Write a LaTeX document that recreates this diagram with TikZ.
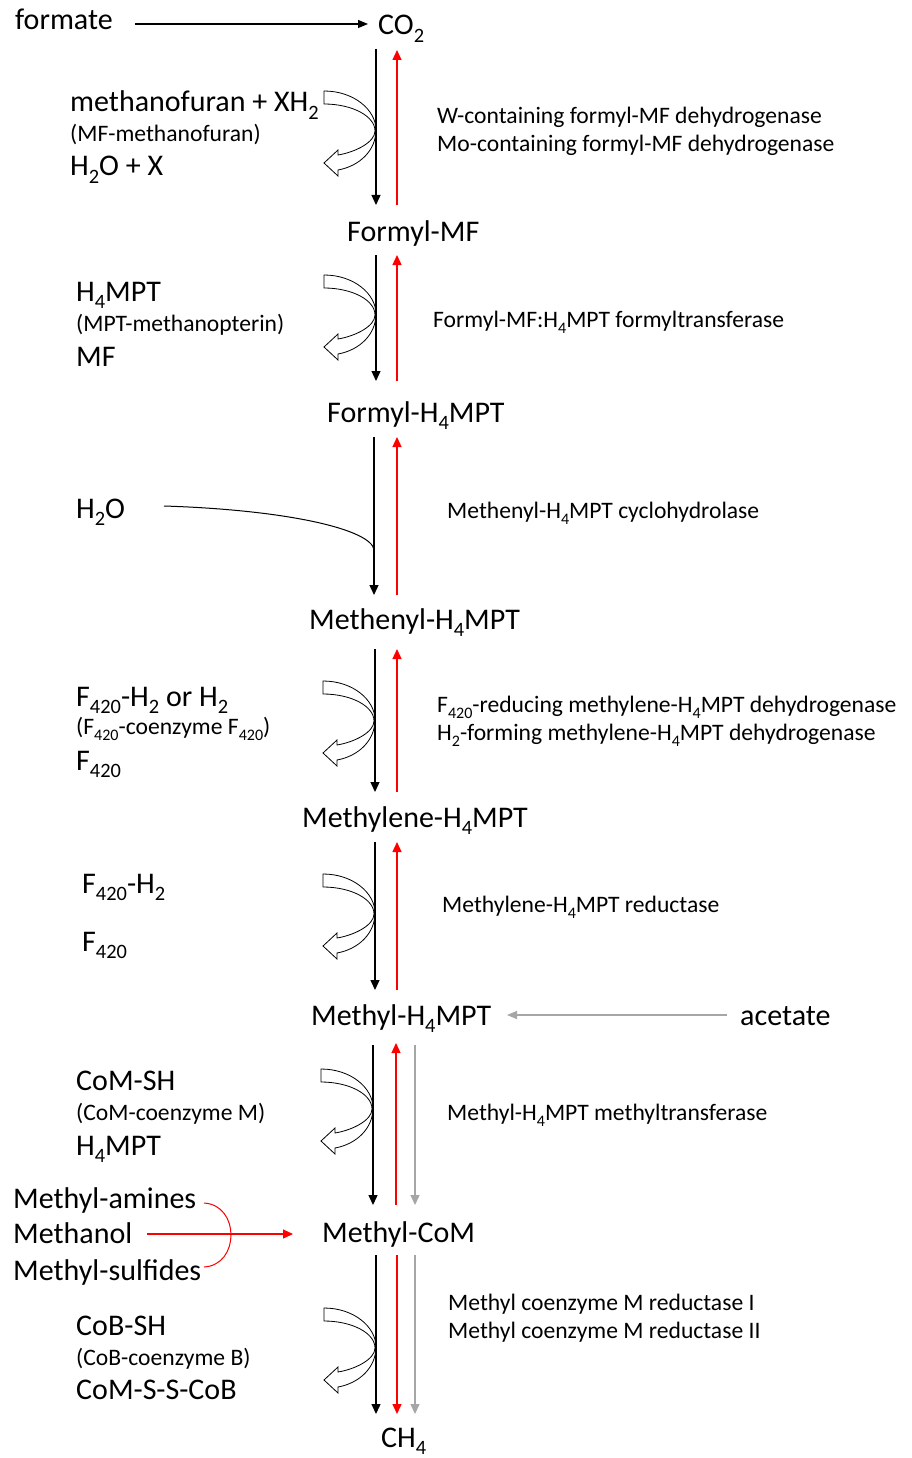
\documentclass[tikz,border=0pt]{standalone}
\usepackage{fontspec}
\setmainfont{Carlito}
\usetikzlibrary{arrows.meta}
\definecolor{lgray}{RGB}{166,166,166}
\newcommand{\sbs}[1]{\raisebox{-0.26em}{\scalebox{0.68}{#1}}}
\tikzset{
  big/.style={font=\fontsize{30}{36}\selectfont, inner sep=0pt, anchor=base west},
  sml/.style={font=\fontsize{23.6}{28}\selectfont, inner sep=0pt, anchor=base west},
  blk/.style={line width=1.3pt, -{Triangle[length=10pt,width=9pt]}},
  rdar/.style={line width=1.3pt, red, -{Triangle[length=10pt,width=9pt]}},
  gyar/.style={line width=1.3pt, lgray, -{Triangle[length=10pt,width=9pt]}},
  cofac/.pic={
    \draw[line width=0.8pt, fill=white]
      (-52,-39) .. controls (-22,-39) and (0,-20) .. (0,0)
      .. controls (0,20) and (-16,36) .. (-38,40)
      -- (-38,46) -- (-52,33) -- (-38,20) -- (-38,25)
      .. controls (-20,22) and (-1,12) .. (-1,1)
      .. controls (-1,-14) and (-24,-26) .. (-52,-26) -- cycle;
  }
}
\begin{document}
\begin{tikzpicture}[x=1pt,y=-1pt]
\useasboundingbox (0,0) rectangle (911,1458);

% central compounds
\node[big] (formate) at (15,30) {formate};
\node[big] (co2) at (378,35) {CO\sbs{2}};
\node[big] (fmf) at (347,241) {Formyl-MF};
\node[big] (fh4) at (327,422) {Formyl-H\sbs{4}MPT};
\node[big] (meh4) at (309,629) {Methenyl-H\sbs{4}MPT};
\node[big] (mlh4) at (302,827) {Methylene-H\sbs{4}MPT};
\node[big] (myh4) at (311,1025) {Methyl-H\sbs{4}MPT};
\node[big] (mcom) at (322,1242) {Methyl-CoM};
\node[big] (ch4) at (381,1447) {CH\sbs{4}};
\node[big] (acet) at (740,1025) {acetate};

% left cofactors
\node[big] (l1a) at (70,112) {methanofuran + XH\sbs{2}};
\node[sml] (l1b) at (70,142) {(MF-methanofuran)};
\node[big] (l1c) at (70,176) {H\sbs{2}O + X};
\node[big] (l2a) at (76,301) {H\sbs{4}MPT};
\node[sml] (l2b) at (76,331) {(MPT-methanopterin)};
\node[big] (l2c) at (76,366) {MF};
\node[big] (l3a) at (76,518) {H\sbs{2}O};
\node[big] (l4a) at (76,706) {F\sbs{420}-H\sbs{2} or H\sbs{2}};
\node[sml] (l4b) at (76,734) {(F\sbs{420}-coenzyme F\sbs{420})};
\node[big] (l4c) at (76,770) {F\sbs{420}};
\node[big] (l5a) at (82,893) {F\sbs{420}-H\sbs{2}};
\node[big] (l5c) at (82,951) {F\sbs{420}};
\node[big] (l6a) at (76,1090) {CoM-SH};
\node[sml] (l6b) at (76,1120) {(CoM-coenzyme M)};
\node[big] (l6c) at (76,1155) {H\sbs{4}MPT};
\node[big] (mam) at (13,1208) {Methyl-amines};
\node[big] (mol) at (13,1243) {Methanol};
\node[big] (msu) at (13,1280) {Methyl-sulfides};
\node[big] (l7a) at (76,1335) {CoB-SH};
\node[sml] (l7b) at (76,1365) {(CoB-coenzyme B)};
\node[big] (l7c) at (76,1399) {CoM-S-S-CoB};

% enzymes
\node[sml] (e1a) at (437,124) {W-containing formyl-MF dehydrogenase};
\node[sml] (e1b) at (437,152) {Mo-containing formyl-MF dehydrogenase};
\node[sml] (e2) at (433,327) {Formyl-MF:H\sbs{4}MPT formyltransferase};
\node[sml] (e3) at (447,518) {Methenyl-H\sbs{4}MPT cyclohydrolase};
\node[sml] (e4a) at (437,712) {F\sbs{420}-reducing methylene-H\sbs{4}MPT dehydrogenase};
\node[sml] (e4b) at (437,740) {H\sbs{2}-forming methylene-H\sbs{4}MPT dehydrogenase};
\node[sml] (e5) at (442,912) {Methylene-H\sbs{4}MPT reductase};
\node[sml] (e6) at (447,1120) {Methyl-H\sbs{4}MPT methyltransferase};
\node[sml] (e7a) at (448,1310) {Methyl coenzyme M reductase I};
\node[sml] (e7b) at (448,1338) {Methyl coenzyme M reductase II};

% coordinates for arrow ends
\coordinate (fs) at (135,24); \coordinate (fe) at (368,24);
\coordinate (as) at (727,1015); \coordinate (ae) at (507,1015);
\coordinate (ms) at (147,1234); \coordinate (me) at (293,1234);

\draw[line width=1.2pt, -{Triangle[length=10pt,width=8pt]}] (fs) -- (fe);
\draw[line width=1.2pt, lgray, -{Triangle[length=10pt,width=8pt]}] (as) -- (ae);
\draw[line width=1.2pt, red, -{Triangle[length=10pt,width=9pt]}] (ms) -- (me);
\draw[line width=1pt, red] (204,1203) .. controls (240,1205) and (240,1265) .. (204,1267);

% step 1
\pic at (376,130) {cofac};
\draw[blk] (376,49) -- (376,205);
\draw[rdar] (397,205) -- (397,50);
% step 2
\pic at (376,314) {cofac};
\draw[blk] (376,255) -- (376,381);
\draw[rdar] (397,381) -- (397,255);
% step 3
\draw[line width=1pt] (164,506) .. controls (290,510) and (372,530) .. (374,550);
\draw[blk] (374,437) -- (374,595);
\draw[rdar] (397,595) -- (397,437);
% step 4
\pic at (375,720) {cofac};
\draw[blk] (375,649) -- (375,792);
\draw[rdar] (397,792) -- (397,649);
% step 5
\pic at (375,913) {cofac};
\draw[blk] (375,842) -- (375,990);
\draw[rdar] (397,990) -- (397,842);
% step 6
\pic at (373,1108) {cofac};
\draw[blk] (373,1045) -- (373,1205);
\draw[rdar] (396,1205) -- (396,1043);
\draw[gyar] (415,1045) -- (415,1205);
% step 7
\pic at (376,1347) {cofac};
\draw[blk] (376,1255) -- (376,1414);
\draw[rdar] (397,1255) -- (397,1414);
\draw[gyar] (415,1255) -- (415,1414);
\end{tikzpicture}
\end{document}
